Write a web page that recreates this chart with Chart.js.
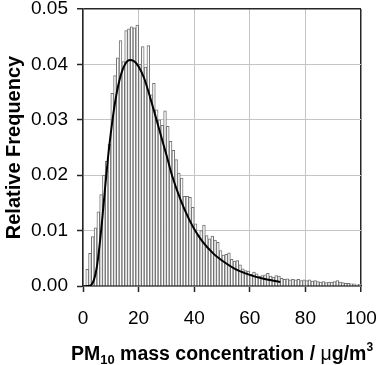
<!DOCTYPE html>
<html>
<head>
<meta charset="utf-8">
<script src="https://cdn.jsdelivr.net/npm/chart.js@4/dist/chart.umd.min.js"></script>
<style>
  html, body { margin: 0; padding: 0; background: #fff; }
  #wrap { width: 378px; height: 365px; position: relative; }
</style>
</head>
<body>
<div id="wrap"><canvas id="c" width="378" height="365"></canvas></div>
<script>
// Histogram bins: bin i covers [i, i+1) ug/m3
const binStarts = Array.from({length: 100}, (_, i) => i);
const relFreq = [
  0.0000, 0.0030, 0.0059, 0.0089, 0.0105, 0.0134, 0.0165, 0.0200, 0.0225, 0.0256,
  0.0348, 0.0380, 0.0412, 0.0443, 0.0405, 0.0461, 0.0464, 0.0468, 0.0466, 0.0471,
  0.0400, 0.0432, 0.0395, 0.0434, 0.0345, 0.0366, 0.0318, 0.0300, 0.0290, 0.0316,
  0.0288, 0.0261, 0.0245, 0.0228, 0.0204, 0.0195, 0.0162, 0.0162, 0.0160, 0.0142,
  0.0112, 0.0092, 0.0100, 0.0110, 0.0091, 0.0085, 0.0090, 0.0083, 0.0079, 0.0064,
  0.0056, 0.0057, 0.0060, 0.0048, 0.0045, 0.0046, 0.0038, 0.0031, 0.0028, 0.0027,
  0.0021, 0.0025, 0.0022, 0.0018, 0.0019, 0.0020, 0.0023, 0.0018, 0.0016, 0.0019,
  0.0018, 0.0014, 0.0012, 0.0013, 0.0011, 0.0012, 0.0011, 0.0012, 0.0010, 0.0011,
  0.0010, 0.0011, 0.0009, 0.0010, 0.0008, 0.0007, 0.0008, 0.0006, 0.0007, 0.0007,
  0.0008, 0.0010, 0.0007, 0.0006, 0.0005, 0.0005, 0.0004, 0.0004, 0.0002, 0.0003
];
// Fitted distribution curve
const fitX = [1, 2, 3, 4, 5, 6, 7, 8, 9, 10, 11, 12, 13, 14, 15, 16, 17, 18, 19, 20,
              22, 24, 26, 28, 30, 32, 35, 38, 40, 43, 47, 50, 55, 60, 65, 71];
const fitY = [0, 0, 0.0002, 0.0012, 0.0035, 0.0075, 0.0125, 0.0180, 0.0232, 0.0276,
              0.0314, 0.0345, 0.0369, 0.0387, 0.0399, 0.0406, 0.0408, 0.0407, 0.0403, 0.0396,
              0.0375, 0.0343, 0.0308, 0.0272, 0.0237, 0.0200, 0.0157, 0.0122, 0.0103, 0.0080,
              0.0058, 0.0046, 0.0030, 0.0020, 0.0013, 0.0007];
const xTicks = [0, 20, 40, 60, 80, 100];
const yTicks = [0, 0.01, 0.02, 0.03, 0.04, 0.05];

const FONT = "'Liberation Sans', Arial, sans-serif";
const DARK = '#262626';
const GRID = '#c4c4c4';

const barData = binStarts.map((b, i) => ({x: b + 0.5, y: relFreq[i]}));
const fitData = fitX.map((x, i) => ({x: x, y: fitY[i]}));

const xTitlePlugin = {
  id: 'xTitle',
  afterDraw(chart) {
    const ctx = chart.ctx;
    const area = chart.chartArea;
    const parts = [
      {t: 'PM', f: 'bold 19.5px ' + FONT, dy: 0},
      {t: '10', f: 'bold 13px ' + FONT, dy: 4},
      {t: ' mass concentration / ', f: 'bold 19.5px ' + FONT, dy: 0},
      {t: '\u03bc', f: '19.5px ' + FONT, dy: 0},
      {t: 'g/m', f: 'bold 19.5px ' + FONT, dy: 0},
      {t: '3', f: 'bold 12px ' + FONT, dy: -9}
    ];
    ctx.save();
    let total = 0;
    parts.forEach(p => { ctx.font = p.f; p.w = ctx.measureText(p.t).width; total += p.w; });
    let x = (area.left + area.right) / 2 - total / 2;
    const base = 360;
    ctx.fillStyle = '#000';
    ctx.textBaseline = 'alphabetic';
    ctx.textAlign = 'left';
    parts.forEach(p => { ctx.font = p.f; ctx.fillText(p.t, x, base + p.dy); x += p.w; });
    ctx.restore();
  }
};

new Chart(document.getElementById('c'), {
  type: 'bar',
  data: {
    datasets: [
      {
        type: 'line',
        data: fitData,
        borderColor: '#000',
        borderWidth: 2,
        pointRadius: 0,
        fill: false,
        cubicInterpolationMode: 'monotone',
        order: 0
      },
      {
        type: 'bar',
        data: barData,
        backgroundColor: '#ffffff',
        borderColor: '#707070',
        borderWidth: 1,
        barPercentage: 1,
        categoryPercentage: 1,
        order: 1
      }
    ]
  },
  options: {
    responsive: false,
    animation: false,
    devicePixelRatio: 1,
    layout: { padding: { top: 9, right: 17, left: 0, bottom: 0 } },
    plugins: { legend: { display: false }, tooltip: { enabled: false } },
    scales: {
      x: {
        type: 'linear',
        min: 0, max: 100,
        offset: false,
        afterBuildTicks(s) { s.ticks = xTicks.map(v => ({value: v})); },
        afterFit(s) { s.height = 79; s.paddingLeft = 0; s.paddingRight = 0; },
        ticks: { font: { family: FONT, size: 19 }, color: '#000', padding: 15, maxRotation: 0,
                 callback: v => String(v) },
        grid: {
          color: c => (c.tick && (c.tick.value === 100) ? DARK : GRID),
          lineWidth: c => (c.tick && (c.tick.value === 100) ? 1.5 : 1),
          tickColor: DARK, tickLength: 6, tickWidth: 1.5, offset: false
        },
        border: { color: DARK, width: 1.5 }
      },
      y: {
        type: 'linear',
        min: 0, max: 0.05,
        afterBuildTicks(s) { s.ticks = yTicks.map(v => ({value: v})); },
        afterFit(s) { s.width = 83; s.paddingTop = 0; s.paddingBottom = 0; },
        ticks: { font: { family: FONT, size: 19 }, color: '#000', padding: 9,
                 callback: v => Number(v).toFixed(2) },
        grid: {
          color: c => (c.tick && Math.abs(c.tick.value - 0.05) < 1e-9 ? DARK : GRID),
          lineWidth: c => (c.tick && Math.abs(c.tick.value - 0.05) < 1e-9 ? 1.5 : 1),
          tickColor: DARK, tickLength: 6, tickWidth: 1.5
        },
        border: { color: DARK, width: 1.5 },
        title: { display: true, text: 'Relative Frequency', color: '#000',
                 font: { family: FONT, size: 20, weight: 'bold' }, padding: { top: 2, bottom: 0 } }
      }
    }
  },
  plugins: [xTitlePlugin]
});
</script>
</body>
</html>
